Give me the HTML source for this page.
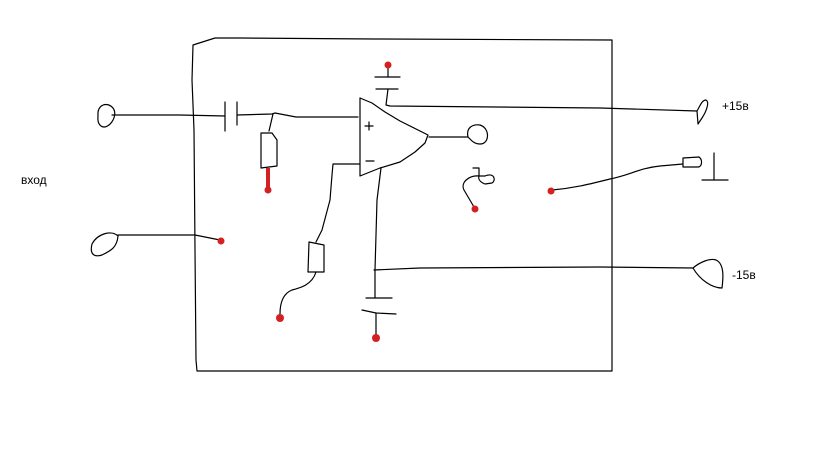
<!DOCTYPE html>
<html><head><meta charset="utf-8"><style>
html,body{margin:0;padding:0;background:#fff;}
svg{display:block;}
text{font-family:"Liberation Sans","DejaVu Sans",sans-serif;font-size:12px;fill:#000;}
</style></head><body>
<svg width="826" height="454" viewBox="0 0 826 454" xmlns="http://www.w3.org/2000/svg">
<g fill="none" stroke="#000" stroke-width="1.2" stroke-linecap="round" stroke-linejoin="round">
<!-- box -->
<polyline points="612,40 375,39 240,38 215,38 193,45 192,80 194,130 195,250 196,360 197,371 612,371 612,40"/>
<!-- top input -->
<path d="M98,115 C97,105 107,101 113,108 C119,116 108,131 101,126 C97,123 98,118 98,115"/>
<polyline points="112,115 180,115 225,116"/>
<line x1="225" y1="102" x2="225" y2="131"/>
<line x1="237" y1="102" x2="237" y2="125"/>
<polyline points="237,115 272,114 275,113 296,117 358,117"/>
<polyline points="273,114 269,131"/>
<polyline points="261,133 272,133 277,140 277,166 261,168 261,133"/>
<!-- opamp -->
<polyline points="360,98 372,103 385,112 400,121 428,135 425,143 415,152 400,162 380,168 360,176 360,98"/>
<line x1="365" y1="126" x2="373" y2="126"/><line x1="369" y1="122" x2="369" y2="130"/>
<line x1="366" y1="161" x2="374" y2="161"/>
<!-- top cap -->
<line x1="388" y1="64" x2="388" y2="77"/>
<polyline points="375,77 400,77"/>
<line x1="376" y1="89" x2="398" y2="89"/>
<polyline points="388,89 386,105 390,106 600,108 697,111"/>
<path d="M697,111 C700,106 702,100 706,100 C710,102 706,112 702,118 L698,124 L697,111"/>
<!-- output -->
<line x1="429" y1="137" x2="468" y2="137"/>
<path d="M468,137 C466,128 472,124 480,125 C490,128 490,144 480,144 C474,144 471,140 468,137"/>
<!-- hook -->
<path d="M473,168 L479,168 L479,176 L485,176 C495,172 496,181 492,183 L485,184 C480,182 478,179 479,176 C470,175 460,182 464,190 L474,207"/>
<!-- ground wire -->
<path d="M552,190 C575,188 590,184 610,179 C630,175 640,168 660,166 L683,164"/>
<path d="M683,163 L683,158 L699,157 C703,160 702,167 698,167 L683,167 Z"/>
<line x1="714" y1="153" x2="714" y2="180"/>
<line x1="702" y1="180" x2="728" y2="180"/>
<!-- minus input / resistor -->
<polyline points="360,164 333,164 332,175 330,200 322,230 316,242"/>
<polyline points="309,242 324,245 324,272 308,272 309,242"/>
<path d="M316,272 C312,285 300,288 292,290 C282,294 280,305 280,314"/>
<!-- bottom vertical -->
<polyline points="381,168 377,200 375,270 375,298"/>
<polyline points="374,270 420,268 600,267 693,268"/>
<path d="M693,268 C700,262 710,258 716,260 C725,264 723,280 722,288 C712,288 700,280 693,268"/>
<line x1="366" y1="298" x2="392" y2="298"/>
<polyline points="362,310 376,313 396,314"/>
<line x1="376" y1="313" x2="376" y2="336"/>
<!-- middle left input -->
<path d="M118,236 C112,230 98,233 92,244 C90,252 92,258 102,255 C110,251 117,248 118,236"/>
<polyline points="118,235 195,235 210,238 220,240"/>
</g>
<g fill="#d42020" stroke="none">
<circle cx="388" cy="65" r="3.5"/>
<rect x="266" y="168" width="4" height="22"/>
<circle cx="268" cy="190" r="3.5"/>
<circle cx="475" cy="209" r="3.5"/>
<circle cx="551" cy="191" r="3.5"/>
<circle cx="221" cy="241" r="3.5"/>
<circle cx="280" cy="318" r="4"/>
<circle cx="376" cy="338" r="4"/>
</g>
<text x="21" y="184">вход</text>
<text x="722" y="110">+15в</text>
<text x="732" y="279">-15в</text>
</svg>
</body></html>
